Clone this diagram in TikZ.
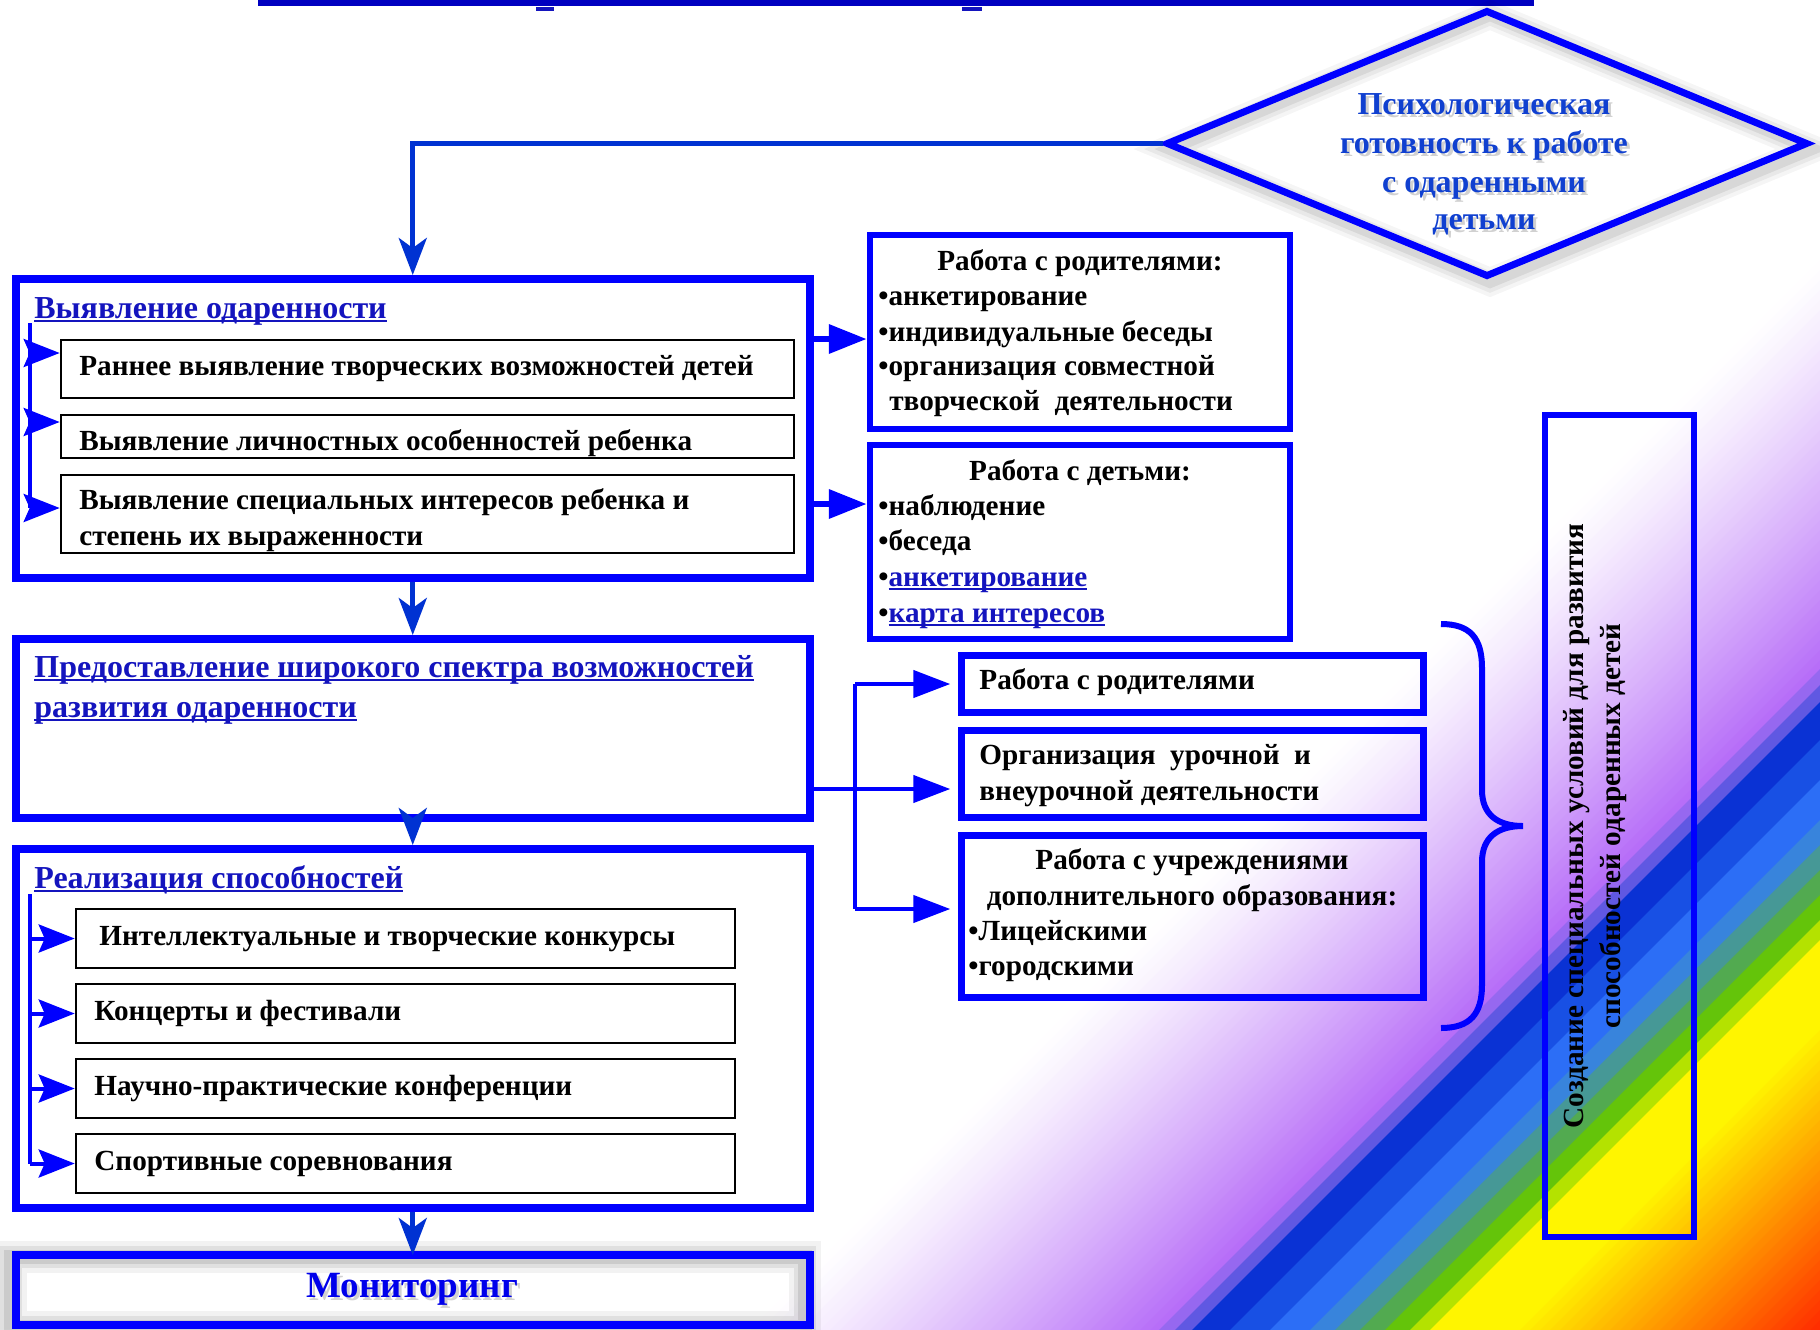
\documentclass[tikz,border=0pt]{standalone}
\usepackage{fontspec}
\setmainfont{Liberation Serif}
\usetikzlibrary{arrows.meta,fit,shapes.geometric}
\definecolor{bxblue}{RGB}{0,0,255}
\definecolor{barblue}{RGB}{0,0,192}
\definecolor{cnblue}{RGB}{0,50,210}
\definecolor{ttlblue}{RGB}{20,20,190}
\definecolor{diablue}{RGB}{16,64,208}
\definecolor{monblue}{RGB}{0,0,235}
\definecolor{purp}{RGB}{182,108,248}
\definecolor{bA}{RGB}{150,104,240}
\definecolor{bB}{RGB}{96,88,226}
\definecolor{bC}{RGB}{10,50,212}
\definecolor{bC2}{RGB}{24,80,228}
\definecolor{bD}{RGB}{44,110,246}
\definecolor{bE}{RGB}{56,132,220}
\definecolor{bF}{RGB}{70,152,150}
\definecolor{bG}{RGB}{82,170,80}
\definecolor{bH}{RGB}{100,196,10}
\definecolor{bI}{RGB}{180,226,0}
\newsavebox\ulbx
\newcommand\ulin[1]{\sbox\ulbx{#1}\rlap{\rule[-2.2pt]{\wd\ulbx}{1.2pt}}\usebox\ulbx}
\newcommand\fBlk{\fontsize{14.6}{18}\selectfont\bfseries}
\newcommand\fTtl{\fontsize{16}{19}\selectfont\bfseries}
\tikzset{
  bigbox/.style={draw=bxblue, line width=4pt, fill=white, inner sep=0pt},
  subbox/.style={draw=black, line width=1.3pt, fill=white, inner sep=0pt},
  rbox/.style={draw=bxblue, line width=3.2pt, inner sep=0pt},
  monbox/.style={inner sep=0pt, outer sep=0pt},
  ttl/.style={inner sep=0pt, anchor=base west, font=\fTtl, text=ttlblue},
  blk/.style={inner sep=0pt, anchor=base west, font=\fBlk, text=black},
  blkc/.style={inner sep=0pt, anchor=base, font=\fBlk, text=black},
  diat/.style={inner sep=0pt, anchor=base, font=\fTtl, text=diablue},
  shd/.style={inner sep=0pt, anchor=base, text=black, opacity=0.18},
  mainarr/.style={draw=cnblue, line width=2.5pt, -{Stealth[length=18.5pt, width=14pt, inset=5pt]}},
  brkline/.style={draw=bxblue, line width=2pt},
  brkarr/.style={draw=bxblue, line width=2pt, -{Stealth[length=18pt, width=14pt, inset=3pt]}},
  fatarr/.style={draw=bxblue, line width=3.3pt, -{Triangle[length=19pt, width=14pt]}},
  grpline/.style={draw=bxblue, line width=2.2pt},
  grparr/.style={draw=bxblue, line width=2.2pt, shorten >=4pt, -{Triangle[length=18.5pt, width=13.5pt]}},
  bracestyle/.style={draw=bxblue, line width=3pt},
}
\begin{document}
\begin{tikzpicture}[x=0.5pt,y=-0.5pt]
\useasboundingbox (0,0) rectangle (1820,1329);
% ---------- background ----------
\begin{scope}
\clip (0,0) rectangle (1820,1329);
\fill[white] (0,0) rectangle (1820,1329);
\foreach \i in {0,...,41} {
  \pgfmathsetmacro\sa{2080+\i*10}
  \pgfmathsetmacro\sb{\sa+11}
  \pgfmathsetmacro\pc{min(100,100*((\i*10+5)/410)^1.2)}
  \fill[purp!\pc!white] (\sa,0) -- (\sb,0) -- (0,\sb) -- (0,\sa) -- cycle;
}
\foreach \sa/\sb/\col in {2489/2506/bA, 2505/2523/bB, 2522/2561/bC, 2560/2601/bC2, 2600/2641/bD, 2640/2666/bE, 2665/2691/bF, 2690/2716/bG, 2715/2741/bH, 2740/2761/bI} {
  \fill[\col] (\sa,0) -- (\sb,0) -- (0,\sb) -- (0,\sa) -- cycle;
}
\foreach \i in {0,...,40} {
  \pgfmathsetmacro\sa{2760+\i*10}
  \pgfmathsetmacro\sb{\sa+11}
  \pgfmathtruncatemacro\gg{max(40,min(245,245-(\sa-2840)*0.663))}
  \definecolor{tmpc}{RGB}{255,\gg,0}
  \fill[tmpc] (\sa,0) -- (\sb,0) -- (0,\sb) -- (0,\sa) -- cycle;
}
\end{scope}
% ---------- top bar ----------
\fill[barblue] (258,0) rectangle (1534,6);
\fill[ttlblue] (536,7) rectangle (554,11);
\fill[ttlblue] (962,7) rectangle (982,11);
% ---------- diamond ----------
\foreach \w/\o in {14/0.04, 10/0.05, 6/0.07} {
  \draw[black, opacity=\o, line width=\w pt, line join=miter]
    (1490,15) -- (1812,149) -- (1490,282) -- (1170,149) -- cycle;
}
\node[diamond, draw=bxblue, line width=3.5pt, minimum width=321pt, minimum height=133.5pt, inner sep=0pt] (dia) at (1487,143.5) {};
\foreach \n/\y/\t in {d1/114/Психологическая, d2/153/готовность к работе, d3/192/с одаренными, d4/229/детьми} {
  \node[shd, font=\fTtl] (\n s) at (1487,\y+3) {\t};
  \node[diat] (\n) at (1484,\y) {\t};
}
% ---------- box 1 ----------
\node[bigbox, fit={(15.5,279) (810,578)}] (b1) {};
\node[ttl] (b1t) at (34,318) {\ulin{Выявление одаренности}};
\node[subbox, fit={(61,340) (794,398)}] (s11) {};
\node[subbox, fit={(61,415) (794,458)}] (s12) {};
\node[subbox, fit={(61,475) (794,553)}] (s13) {};
\node[blk] (s11t) at (79,375) {Раннее выявление творческих возможностей детей};
\node[blk] (s12t) at (79,450) {Выявление личностных особенностей ребенка};
\node[blk] (s13a) at (79,509) {Выявление специальных интересов ребенка и};
\node[blk] (s13b) at (79,545) {степень их выраженности};
\coordinate (k1top) at (30,323);
\coordinate (k1a) at (30,353);
\coordinate (k1b) at (30,422);
\coordinate (k1c) at (30,508);
\draw[brkline] (k1top) -- (k1c);
\draw[brkarr] (k1a) -- (k1a -| s11.west);
\draw[brkarr] (k1b) -- (k1b -| s12.west);
\draw[brkarr] (k1c) -- (k1c -| s13.west);
% ---------- box 2 ----------
\node[bigbox, fit={(15.5,639) (810,818)}] (b2) {};
\node[ttl] (b2t1) at (34,677) {\ulin{Предоставление широкого спектра возможностей}};
\node[ttl] (b2t2) at (34,717) {\ulin{развития одаренности}};
% ---------- box 3 ----------
\node[bigbox, fit={(15.5,849) (810,1208)}] (b3) {};
\node[ttl] (b3t) at (34,888) {\ulin{Реализация способностей}};
\node[subbox, fit={(76,909) (735,968)}] (s31) {};
\node[subbox, fit={(76,984) (735,1043)}] (s32) {};
\node[subbox, fit={(76,1059) (735,1118)}] (s33) {};
\node[subbox, fit={(76,1134) (735,1193)}] (s34) {};
\node[blk] (s31t) at (99,945) {Интеллектуальные и творческие конкурсы};
\node[blk] (s32t) at (94,1020) {Концерты и фестивали};
\node[blk] (s33t) at (94,1095) {Научно-практические конференции};
\node[blk] (s34t) at (94,1170) {Спортивные соревнования};
\coordinate (k3top) at (30,894);
\draw[brkline] (k3top) -- (k3top |- s34.west);
\draw[brkarr] (k3top |- s31.west) -- (s31.west);
\draw[brkarr] (k3top |- s32.west) -- (s32.west);
\draw[brkarr] (k3top |- s33.west) -- (s33.west);
\draw[brkarr] (k3top |- s34.west) -- (s34.west);
% ---------- monitoring ----------
\node[monbox, fit={(15.5,1255) (810,1325)}] (mon) {};
\foreach \w/\o in {16/0.05, 11/0.07, 7/0.09} {
  \draw[black, opacity=\o, line width=\w pt] (11,1257) rectangle (805,1327);
}
\draw[draw=bxblue, line width=4pt] (mon.north west) rectangle (mon.south east);
\node[shd, font=\fontsize{18.5}{22}\selectfont\bfseries] (mont-s) at (415,1300) {Мониторинг};
\node[inner sep=0pt, anchor=base, font=\fontsize{18.5}{22}\selectfont\bfseries, text=monblue] (mont) at (412,1297) {Мониторинг};
% ---------- main connectors ----------
\draw[mainarr] (dia.west) -| (b1.north);
\draw[mainarr] (b1.south) -- (b2.north);
\draw[mainarr] (b2.south) -- (b3.north);
\draw[mainarr] (b3.south) -- (mon.north);
% ---------- right boxes ----------
\node[rbox, fit={(870,235) (1290,429)}] (rb1) {};
\node[blkc] (rb1t) at (1080,270) {Работа с родителями:};
\node[blk] (rb1a) at (878,305) {•анкетирование};
\node[blk] (rb1b) at (878,341) {•индивидуальные беседы};
\node[blk] (rb1c) at (878,375) {•организация совместной};
\node[blk] (rb1d) at (889,410) {творческой~ деятельности};
\node[rbox, fit={(870,445) (1290,639)}] (rb2) {};
\node[blkc] (rb2t) at (1080,480) {Работа с детьми:};
\node[blk] (rb2a) at (878,515) {•наблюдение};
\node[blk] (rb2b) at (878,550) {•беседа};
\node[blk] (rb2c) at (878,586) {•\textcolor{ttlblue}{\ulin{анкетирование}}};
\node[blk] (rb2d) at (878,622) {•\textcolor{ttlblue}{\ulin{карта интересов}}};
\coordinate (fa1) at (0,339);
\coordinate (fa2) at (0,504);
\draw[fatarr] (fa1 -| b1.east) -- (fa1 -| rb1.west);
\draw[fatarr] (fa2 -| b1.east) -- (fa2 -| rb2.west);
% ---------- group ----------
\node[rbox, fit={(961.5,655.5) (1423.5,712.5)}] (g1) {};
\node[rbox, fit={(961.5,730.5) (1423.5,817.5)}] (g2) {};
\node[rbox, fit={(961.5,835.5) (1423.5,997.5)}] (g3) {};
\node[blk] (g1t) at (979,689) {Работа с родителями};
\node[blk] (g2a) at (979,764) {Организация~ урочной~ и};
\node[blk] (g2b) at (979,800) {внеурочной деятельности};
\node[blkc] (g3a) at (1192,869) {Работа с учреждениями};
\node[blkc] (g3b) at (1192,905) {дополнительного образования:};
\node[blk] (g3c) at (968,940) {•Лицейскими};
\node[blk] (g3d) at (968,975) {•городскими};
\coordinate (gv1) at (855,684);
\coordinate (gv2) at (855,789);
\coordinate (gv3) at (855,909);
\draw[grpline] (gv2 -| b2.east) -- (gv2);
\draw[grpline] (gv1) -- (gv3);
\draw[grparr] (gv1) -- (gv1 -| g1.west);
\draw[grparr] (gv2) -- (gv2 -| g2.west);
\draw[grparr] (gv3) -- (gv3 -| g3.west);
% ---------- brace ----------
\draw[bracestyle] (1441,624) .. controls (1470,624) and (1482,638) .. (1482,668) -- (1482,790)
  .. controls (1482,815) and (1498,826) .. (1523,826)
  .. controls (1498,826) and (1482,837) .. (1482,862) -- (1482,985)
  .. controls (1482,1014) and (1470,1028) .. (1441,1028);
% ---------- vertical box ----------
\node[rbox, line width=3pt, fit={(1545,415) (1694,1237)}] (vb) {};
\node[blkc, rotate=90] (vt1) at (1583,826) {Создание специальных условий для развития};
\node[blkc, rotate=90] (vt2) at (1620,826) {способностей одаренных детей};
\end{tikzpicture}
\end{document}
